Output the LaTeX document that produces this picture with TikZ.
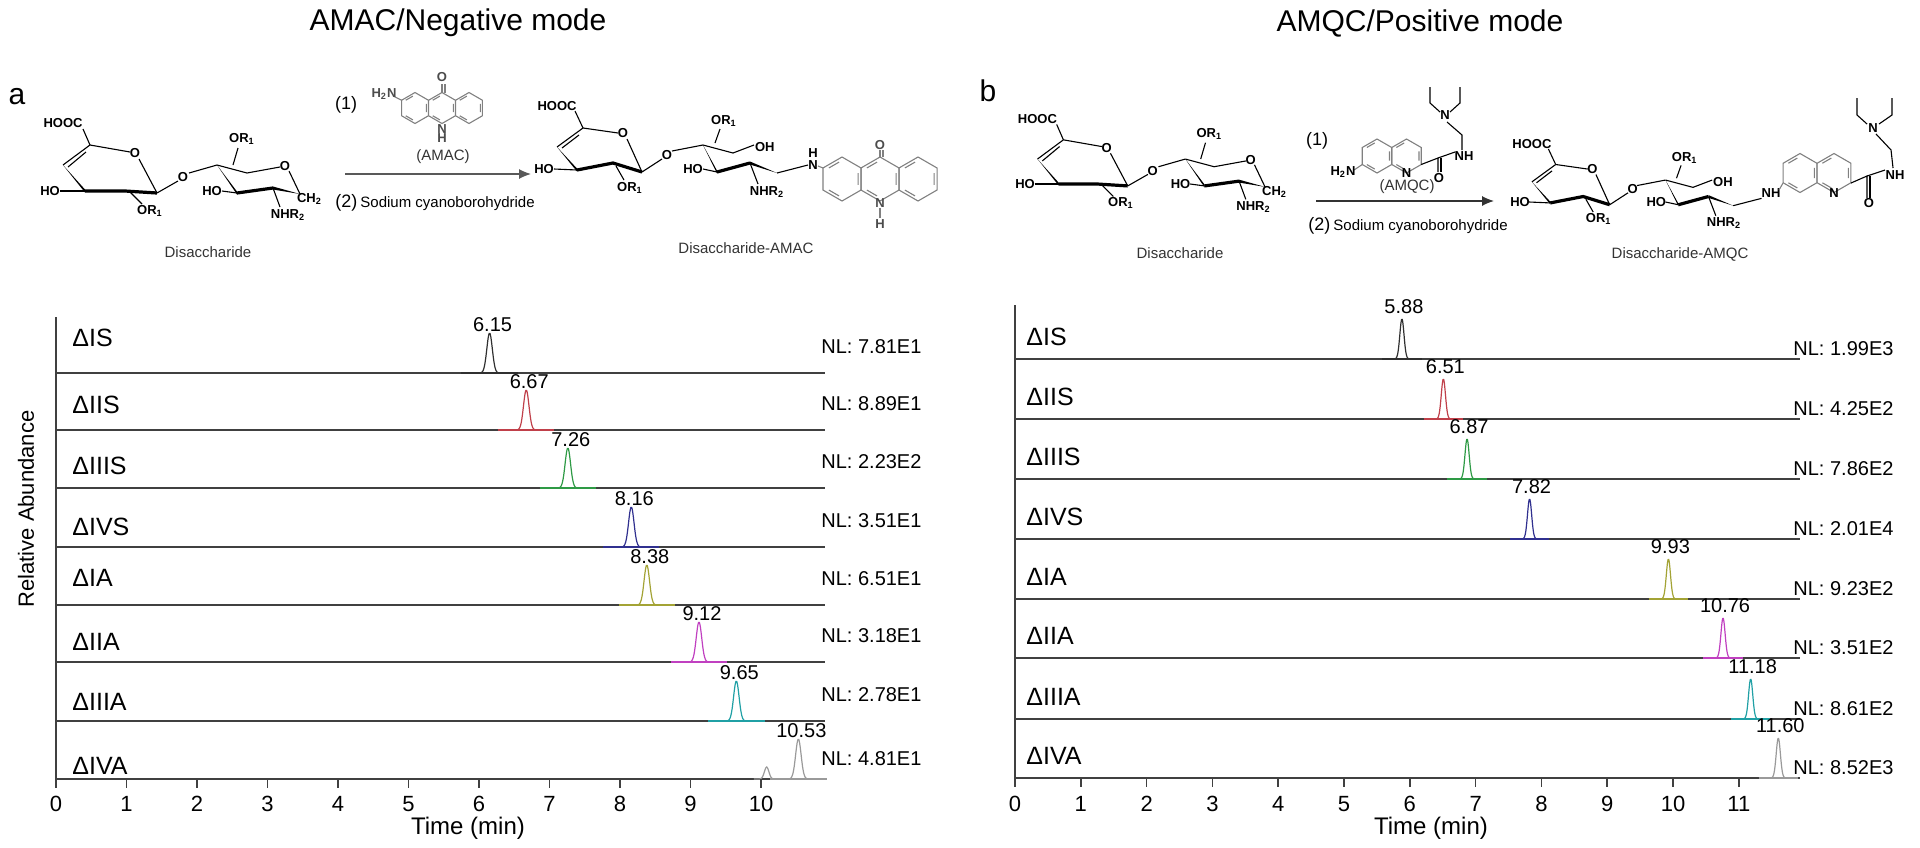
\documentclass[tikz,border=0pt]{standalone}
\usepackage{fontspec}
\setmainfont{Liberation Sans}
\usetikzlibrary{arrows.meta}
\definecolor{pk1}{HTML}{303030}
\definecolor{pk2}{HTML}{C0404A}
\definecolor{pk3}{HTML}{2E9A45}
\definecolor{pk4}{HTML}{30308F}
\definecolor{pk5}{HTML}{A3A335}
\definecolor{pk6}{HTML}{C040C0}
\definecolor{pk7}{HTML}{20A0A5}
\definecolor{pk8}{HTML}{9A9A9A}
\definecolor{axc}{HTML}{404040}
\tikzset{
 bond/.style={line width=0.55pt,black},
 boldb/.style={line width=1.6pt,black,line join=round},
 gbond/.style={line width=0.55pt,gray},
 chem/.style={font=\fontsize{6.5}{7}\selectfont\bfseries,inner sep=0.3pt},
 gchem/.style={chem,text=gray!60!black},
 lbl/.style={font=\fontsize{7.5}{8}\selectfont,inner sep=0pt,text=black!80},
 axis/.style={line width=0.8pt,axc},
 tit/.style={font=\fontsize{15}{17}\selectfont,inner sep=0pt},
 plab/.style={font=\fontsize{15}{17}\selectfont,inner sep=0pt},
 cmp/.style={font=\fontsize{12.5}{14}\selectfont,inner sep=0pt,anchor=west},
 nlab/.style={font=\fontsize{10}{12}\selectfont,inner sep=0pt,anchor=west},
 rtlab/.style={font=\fontsize{10}{12}\selectfont,inner sep=0pt},
 ticklab/.style={font=\fontsize{11}{13}\selectfont,inner sep=0pt},
}
\newcommand\mysugarR{%
 \node[chem] at (13,-68) {HOOC};
 \draw[bond] (33,-62)--(40,-46);
 \draw[bond] (40,-46)--(13,-26); \draw[bond] (36,-39)--(18,-24);
 \draw[bond] (40,-46)--(80,-39); \node[chem] at (85,-38){O}; \draw[bond] (89,-32)--(107,2);
 \draw[boldb] (107,2)--(75,0)--(35,0);
 \fill (35,1.5)--(13,-26)--(35,-1.5)--cycle;
 \node[chem] at (0,0){HO}; \draw[bond] (10,0)--(35,0);
 \draw[bond] (80,1)--(92,13); \node[chem] at (100,20){OR\textsubscript{1}};
 \draw[bond] (107,2)--(128,-10); \node[chem] at (133,-14){O}; \draw[bond] (139,-18)--(167,-26);
 \draw[bond] (167,-26)--(197,-18)--(230,-24); \node[chem] at (235,-25){O};
 \draw[bond] (239,-20)--(250,3);
 \node[chem,anchor=west] at (246,8){CH\textsubscript{2}};
 \fill (167,-26)--(187,3.5)--(187,0.5)--cycle;
 \draw[boldb] (187,2)--(223,-3);
 \fill (223,-4.5)--(250,3)--(223,-1.5)--cycle;
 \node[chem] at (162,0){HO}; \draw[bond] (172,0)--(187,2);
 \draw[bond] (183,-26)--(188,-43); \node[chem] at (192,-52){OR\textsubscript{1}};
 \draw[bond] (223,-3)--(230,16); \node[chem] at (238,24){NHR\textsubscript{2}};
}
\newcommand\mysugarP{%
 \node[chem] at (13,-63) {HOOC};
 \draw[bond] (31,-58)--(39,-41);
 \draw[bond] (39,-41)--(13,-22); \draw[bond] (35,-34)--(18,-21);
 \draw[bond] (39,-41)--(74,-36); \node[chem] at (79,-36){O}; \draw[bond] (83,-30)--(98,3);
 \draw[boldb] (98,3)--(69,-6)--(33,1);
 \fill (33,2.5)--(13,-22)--(33,-0.5)--cycle;
 \node[chem] at (0,0){HO}; \draw[bond] (10,0)--(33,1);
 \draw[bond] (72,-3)--(80,11); \node[chem] at (86,19){OR\textsubscript{1}};
 \draw[bond] (98,3)--(118,-10); \node[chem] at (123,-14){O}; \draw[bond] (128,-18)--(159,-24);
 \draw[bond] (159,-24)--(189,-16)--(210,-24); \node[chem,anchor=west] at (210,-22){OH};
 \draw[bond] (171,-26)--(176,-40); \node[chem] at (180,-48){OR\textsubscript{1}};
 \fill (159,-24)--(173,4.5)--(173,1.5)--cycle;
 \draw[boldb] (173,3)--(206,-6);
 \fill (206,-7.5)--(233,4)--(206,-4.5)--cycle;
 \node[chem] at (149,0){HO}; \draw[bond] (159,0)--(173,3);
 \draw[bond] (206,-6)--(214,15); \node[chem] at (223,23){NHR\textsubscript{2}};
 \draw[bond] (233,4)--(264,-4);
}
% hexagon with inner (aromatic) lines
\newcommand\myhex[4][gbond]{\draw[#1] (#2,#3)+(90:#4)--+(150:#4)--+(210:#4)--+(270:#4)--+(330:#4)--+(30:#4)--cycle;
 \draw[#1] (#2,#3)+(100:0.78*#4)--+(140:0.78*#4) (#2,#3)+(220:0.78*#4)--+(260:0.78*#4) (#2,#3)+(340:0.78*#4)--+(20:0.78*#4);}
\begin{document}
\begin{tikzpicture}[x=0.5pt,y=-0.5pt]
\useasboundingbox (0,0) rectangle (1920,847);
\node[tit] (t1) at (458,23) {AMAC/Negative mode};
\node[tit] (t2) at (1420,23) {AMQC/Positive mode};
\node[plab] (pa) at (17,97) {a};
\node[plab] (pb) at (988,91) {b};
% ---------- panel a scheme ----------
\begin{scope}[shift={(50,191)}] \mysugarR \end{scope}
\node[lbl] (da) at (208,252) {Disaccharide};
\node[font=\fontsize{9}{10}\selectfont,inner sep=0pt] (n1a) at (346,105) {(1)};
\myhex{415}{108}{15.5}\myhex{442}{108}{15.5}\myhex{469}{108}{15.5}
\draw[gbond] (442,92.5)--(442,84); \draw[gbond] (445,92.5)--(445,84);
\node[gchem] at (442,77){O};
\node[gchem] at (442,129){N};\node[gchem] at (442,138){H};
\draw[gbond] (401.6,100.2)--(393,96); \node[gchem] at (384,94){H\textsubscript{2}N};
\node[lbl] (amac) at (443,157) {(AMAC)};
\coordinate (a1) at (345,174); \coordinate (a2) at (531,174);
\draw[line width=0.6pt,gray!70!black,-{Latex[length=6pt,width=5pt]}] (a1)--(a2);
\node[font=\fontsize{9}{10}\selectfont,inner sep=0pt,anchor=west] at (335,203) {(2)\,{\fontsize{7.5}{8}\selectfont Sodium cyanoborohydride}};
\begin{scope}[shift={(544,169)}] \mysugarP \end{scope}
\node[chem] at (813,165){N};\node[chem] at (813,153){H};
\draw[gbond] (818,166)--(823,168);
\myhex{842}{179}{22}\myhex{880}{179}{22}\myhex{918}{179}{22}
\draw[gbond] (880,157)--(880,150);\draw[gbond] (883,157)--(883,150);
\node[gchem] at (880,145){O};
\node[gchem] at (880,203){N};\node[gchem] at (880,224){H};\draw[gbond](880,208)--(880,218);
\node[lbl] (dpa) at (746,248) {Disaccharide-AMAC};
% ---------- panel b scheme ----------
\begin{scope}[shift={(1025,184)},scale=0.96] \mysugarR \end{scope}
\node[lbl] (db) at (1180,253) {Disaccharide};
\node[font=\fontsize{9}{10}\selectfont,inner sep=0pt] (n1b) at (1317,141) {(1)};
\myhex{1377}{156}{17}\myhex{1406.5}{156}{17}
\node[gchem,text=black] at (1406.5,173){N};
\draw[gbond] (1362.3,164.5)--(1354,170); \node[chem] at (1343,172){H\textsubscript{2}N};
\draw[bond] (1421.2,164.5)--(1438,158)--(1438,172); \draw[bond] (1441,158)--(1441,172);
\node[chem] at (1439,178){O};
\draw[bond] (1438,158)--(1455,152); \node[chem] at (1464,156){NH};
\draw[bond] (1462,150)--(1462,135)--(1447,122); \node[chem] at (1445,115){N};
\draw[bond] (1440,112)--(1430,103)--(1430,87); \draw[bond] (1450,112)--(1460,103)--(1460,87);
\node[lbl] (amqc) at (1407,187) {(AMQC)};
\coordinate (b1) at (1316,201); \coordinate (b2) at (1494,201);
\draw[line width=0.6pt,black!80,-{Latex[length=6pt,width=5pt]}] (b1)--(b2);
\node[font=\fontsize{9}{10}\selectfont,inner sep=0pt,anchor=west] at (1308,226) {(2)\,{\fontsize{7.5}{8}\selectfont Sodium cyanoborohydride}};
\begin{scope}[shift={(1520,202)},scale=0.915] \mysugarP \end{scope}
\node[chem] at (1771,193){NH};
\draw[gbond] (1779,190)--(1783,183);
\myhex{1800}{173}{19.5}\myhex{1834}{173}{19.5}
\node[chem] at (1834,193){N};
\draw[bond] (1851,183)--(1867,176)--(1867,198); \draw[bond] (1870,176)--(1870,198);
\node[chem] at (1869,203){O};
\draw[bond] (1867,176)--(1885,170); \node[chem] at (1895,175){NH};
\draw[bond] (1893,168)--(1891,150)--(1876,134); \node[chem] at (1873,128){N};
\draw[bond] (1867,124)--(1857,115)--(1857,98); \draw[bond] (1879,124)--(1892,115)--(1892,98);
\node[lbl] (dpb) at (1680,254) {Disaccharide-AMQC};
% ---------- chromatogram a ----------
\node[font=\fontsize{11}{13}\selectfont,rotate=90,inner sep=0pt] (ra) at (26,509) {Relative Abundance};
\draw[axis] (56,317)--(56,779);
\foreach \b/\t/\c/\lab/\ly in {373/6.15/pk1/ΔIS/35,430/6.67/pk2/ΔIIS/25,488/7.26/pk3/ΔIIIS/22,547/8.16/pk4/ΔIVS/20,605/8.38/pk5/ΔIA/27,662/9.12/pk6/ΔIIA/20,721/9.65/pk7/ΔIIIA/19,779/10.53/pk8/ΔIVA/13}{
 \draw[axis] (56,\b)--(825,\b);
 \draw[\c,line width=0.6pt] ({56+70.5*(\t-0.4)},\b)--({56+70.5*(\t+0.4)},\b);
 \draw[\c,line width=0.6pt] plot[domain={\t-0.3}:{\t+0.3},samples=50,smooth] ({56+70.5*\x},{\b-40*exp(-((\x-\t)/0.055)^2)});
 \node[rtlab] at ({56+70.5*\t+3},{\b-48}) {\t};
 \node[cmp] at (72,{\b-\ly}) {\lab};
}
\foreach \b/\nl in {373/7.81E1,430/8.89E1,488/2.23E2,547/3.51E1,605/6.51E1,662/3.18E1,721/2.78E1}{\node[nlab] at (821,{\b-26}) {NL: \nl};}
\node[nlab] at (821,759) {NL: 4.81E1};
\draw[pk8,line width=0.6pt] plot[domain=9.9:10.25,samples=30,smooth] ({56+70.5*\x},{779-12*exp(-((\x-10.08)/0.045)^2)});
\foreach \k in {0,...,10}{\draw[axis] ({56+70.5*\k},779)--({56+70.5*\k},788); \node[ticklab] at ({56+70.5*\k},804) {\k};}
\node[font=\fontsize{12}{14}\selectfont,inner sep=0pt] (ta) at (468,828) {Time (min)};
% ---------- chromatogram b ----------
\draw[axis] (1015,305)--(1015,778);
\foreach \b/\t/\c/\lab/\nl in {359/5.88/pk1/ΔIS/1.99E3,419/6.51/pk2/ΔIIS/4.25E2,479/6.87/pk3/ΔIIIS/7.86E2,539/7.82/pk4/ΔIVS/2.01E4,599/9.93/pk5/ΔIA/9.23E2,658/10.76/pk6/ΔIIA/3.51E2,719/11.18/pk7/ΔIIIA/8.61E2,778/11.60/pk8/ΔIVA/8.52E3}{
 \draw[axis] (1015,\b)--(1800,\b);
 \draw[\c,line width=0.6pt] ({1015+65.8*(\t-0.3)},\b)--({1015+65.8*(\t+0.3)},\b);
 \draw[\c,line width=0.6pt] plot[domain={\t-0.25}:{\t+0.25},samples=50,smooth] ({1015+65.8*\x},{\b-40*exp(-((\x-\t)/0.045)^2)});
 \node[rtlab] at ({1015+65.8*\t+2},{\b-52}) {\t};
 \node[cmp] at (1026,{\b-22}) {\lab};
 \node[nlab] at (1793,{\b-10}) {NL: \nl};
}
\foreach \k in {0,...,11}{\draw[axis] ({1015+65.8*\k},778)--({1015+65.8*\k},787); \node[ticklab] at ({1015+65.8*\k},804) {\k};}
\node[font=\fontsize{12}{14}\selectfont,inner sep=0pt] (tb) at (1431,828) {Time (min)};
\end{tikzpicture}
\end{document}
